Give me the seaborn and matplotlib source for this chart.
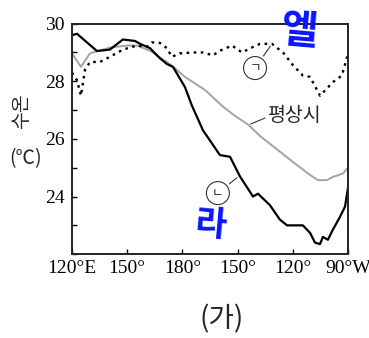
import pandas as pd
import seaborn as sns
import matplotlib.pyplot as plt

# longitude in degrees east (120E .. 90W = 270)
lon_la = [120, 122.7, 133.6, 140.6, 147.7, 154.2, 157, 162.4, 167.8, 171.6, 174.9, 181.4,
          185.1, 191.2, 200.4, 205.9, 211.3, 218.4, 221.1, 227.6, 233.0, 236.9, 245.5,
          249.4, 252.1, 254.8, 256.4, 259.1, 261.8, 265.7, 268.4, 270]
sst_la = [29.6, 29.65, 29.05, 29.1, 29.45, 29.4, 29.3, 29.15, 28.8, 28.6, 28.5, 27.8,
          27.17, 26.3, 25.44, 25.38, 24.7, 24.0, 24.1, 23.7, 23.2, 23.0, 23.0,
          22.74, 22.4, 22.35, 22.6, 22.5, 22.85, 23.3, 23.65, 24.3]

lon_nor = [120, 124.9, 129.8, 140.6, 149.9, 155.3, 162.4, 171.6, 177, 181.4, 185.8, 192.3,
           201.5, 208.6, 215.7, 222.2, 229.2, 240.1, 249.4, 253.7, 258.6, 261.8, 267.3, 270]
sst_nor = [28.97, 28.5, 28.97, 29.17, 29.24, 29.24, 29.06, 28.67, 28.4, 28.15, 27.97, 27.7,
           27.15, 26.8, 26.5, 26.1, 25.75, 25.2, 24.75, 24.57, 24.57, 24.68, 24.8, 25.0]

lon_el = [120, 122.7, 124.9, 127.1, 129.8, 135.2, 140.6, 147.7, 155.3, 160.8, 163.5, 167.8,
          171.6, 174.3, 178.7, 185.8, 191.2, 196.6, 200.4, 207, 212.4, 216.7, 222.2, 228.7,
          234.7, 240.1, 245.5, 249.4, 254.8, 261.8, 266.7, 270]
sst_el = [28.3, 28.04, 27.5, 28.4, 28.67, 28.67, 28.85, 29.1, 29.24, 29.2, 29.35, 29.33,
          29.15, 28.85, 28.97, 29.0, 29.0, 28.9, 29.06, 29.24, 29.0, 29.14, 29.3, 29.3,
          29.0, 28.56, 28.2, 28.15, 27.5, 27.97, 28.2, 28.95]

xticks = [120, 150, 180, 210, 240, 270]
xlabels = ['120°E', '150°', '180°', '150°', '120°', '90°W']

sns.set_style('ticks')
plt.rcParams['font.family'] = ['Liberation Serif', 'DejaVu Serif']
kr = ['Noto Sans CJK KR', 'DejaVu Sans']

fig = plt.figure(figsize=(3.69, 3.38), dpi=100)
ax = fig.add_axes([0.195, 0.248, 0.748, 0.682])

sns.lineplot(x=lon_nor, y=sst_nor, ax=ax, color='#a3a3a3', lw=1.4)
sns.lineplot(x=lon_la, y=sst_la, ax=ax, color='black', lw=1.6)
sns.lineplot(x=lon_el, y=sst_el, ax=ax, color='black', lw=1.7, linestyle=(0, (1.1, 1.9)))

ax.set_xlim(120, 270)
ax.set_ylim(22, 30)
ax.set_xticks(xticks)
ax.set_xticklabels(xlabels)
ax.set_yticks([22, 23, 24, 25, 26, 27, 28, 29, 30])
ax.set_yticklabels(['', '', '24', '', '26', '', '28', '', '30'])
ax.tick_params(direction='in', length=3.5, width=1, labelsize=14, colors='black',
               pad=5)
ax.tick_params(axis='x', pad=4)
for s in ax.spines.values():
    s.set_visible(True)
    s.set_linewidth(1.4)
    s.set_color('#222222')

circ = dict(boxstyle='circle,pad=0.4', fc='white', ec='#333333', lw=0.8)
ax.annotate('ㄱ', xy=(228.7, 29.3), xytext=(219.5, 28.46), family=kr, fontsize=9,
            ha='center', va='center', bbox=circ,
            arrowprops=dict(arrowstyle='-', color='#333333', lw=0.8))
ax.annotate('ㄴ', xy=(210.8, 24.71), xytext=(199.3, 24.12), family=kr, fontsize=9,
            ha='center', va='center', bbox=circ,
            arrowprops=dict(arrowstyle='-', color='#333333', lw=0.8))
ax.annotate('', xy=(215.7, 26.48), xytext=(226.3, 26.76),
            arrowprops=dict(arrowstyle='-', color='#333333', lw=0.8))
ax.text(226.8, 26.8, '평상시', family=kr, fontsize=14, ha='left', va='center')

ax.text(243.5, 29.72, '엘', family=kr, fontsize=29, fontweight='bold', color='#0a14ff',
        ha='center', va='center', rotation=-5, clip_on=False)
ax.text(195, 23.0, '라', family=kr, fontsize=25, fontweight='bold', color='#0a14ff',
        ha='center', va='center', rotation=-5, clip_on=False)

fig.text(0.058, 0.672, '수온', family=kr, fontsize=14, rotation=90, ha='center', va='center')
fig.text(0.068, 0.53, '(℃)', family=kr, fontsize=14, ha='center', va='center')
fig.text(0.60, 0.055, '(가)', family=kr, fontsize=20, ha='center', va='center')

fig.savefig('out.png', dpi=100)
